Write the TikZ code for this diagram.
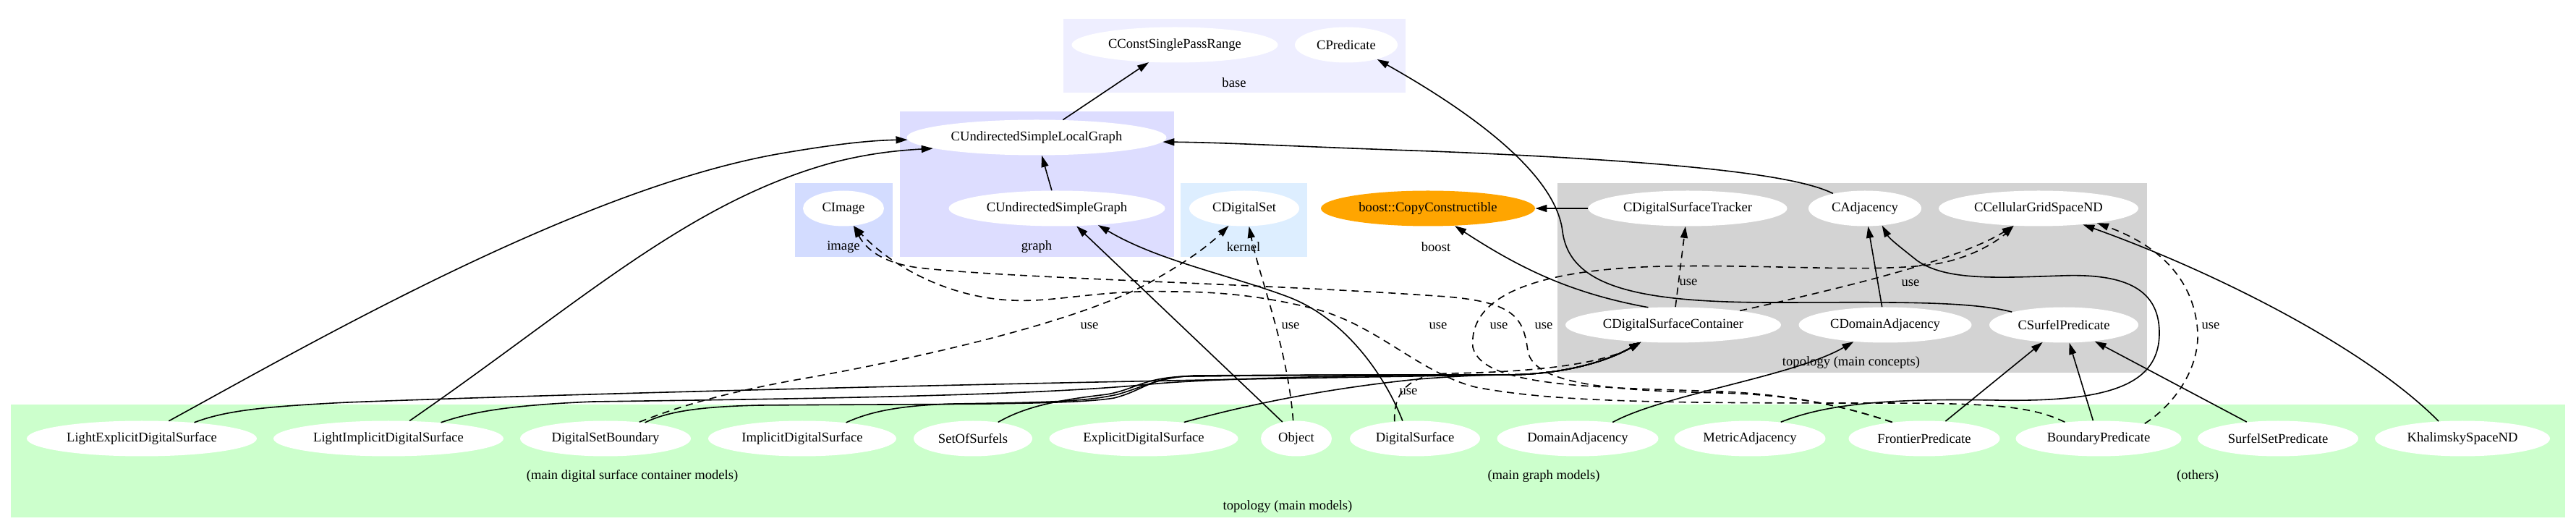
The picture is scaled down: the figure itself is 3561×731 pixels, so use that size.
\documentclass[tikz,border=0pt]{standalone}
\usepackage{fontspec}
\setmainfont{Liberation Serif}
\usetikzlibrary{shapes.geometric,arrows.meta}
\definecolor{cbase}{HTML}{EEEEFF}
\definecolor{cgraph}{HTML}{DDDDFF}
\definecolor{cimage}{HTML}{D3DCFF}
\definecolor{ckernel}{HTML}{DDEEFF}
\definecolor{cconc}{HTML}{D3D3D3}
\definecolor{cmodels}{HTML}{CCFFCC}
\definecolor{corange}{HTML}{FFA500}
\newcommand{\nodefont}{\fontsize{9.3pt}{11pt}\selectfont}
\begin{document}
\begin{tikzpicture}[x=0.5pt,y=-0.5pt,
  nd/.style={ellipse, fill=white, minimum height=24.5pt, inner sep=0pt, font=\nodefont},
  lbl/.style={inner sep=0pt, font=\nodefont},
  edge/.style={-{Triangle[length=8pt,width=5pt]}, line width=0.8pt},
  useedge/.style={edge, dash pattern=on 5pt off 3.5pt}]
\fill[white] (0,0) rectangle (3561,731);
\useasboundingbox (0,0) rectangle (3561,731);
% clusters
\fill[cbase] (1470,26) rectangle (1943,128);
\fill[cgraph] (1244,154) rectangle (1623,355);
\fill[cimage] (1099,253) rectangle (1234,355);
\fill[ckernel] (1632,253) rectangle (1807,355);
\fill[cconc] (2153,253) rectangle (2968,515);
\fill[cmodels] (15,559) rectangle (3546,715);
% cluster labels
\node[lbl] (lbase) at (1706,114) {base};
\node[lbl] (lgraph) at (1433,341) {graph};
\node[lbl] (limage) at (1166,341) {image};
\node[lbl] (lkernel) at (1719,341) {kernel};
\node[lbl] (lboost) at (1985,341) {boost};
\node[lbl] (lconc) at (2559,501) {topology (main concepts)};
\node[lbl] (lcont) at (874,658) {(main digital surface container models)};
\node[lbl] (lgm) at (2134,658) {(main graph models)};
\node[lbl] (loth) at (3038,658) {(others)};
\node[lbl] (lmod) at (1780,700) {topology (main models)};
% nodes
\node[nd, minimum width=142.5pt] (CCSPR) at (1624,62) {CConstSinglePassRange};
\node[nd, minimum width=71pt] (CPred) at (1861,62) {CPredicate};
\node[nd, minimum width=179.5pt] (CUSLG) at (1433,190) {CUndirectedSimpleLocalGraph};
\node[nd, minimum width=56pt] (CImage) at (1166,288) {CImage};
\node[nd, minimum width=149.5pt] (CUSG) at (1461,288) {CUndirectedSimpleGraph};
\node[nd, minimum width=76pt] (CDS) at (1720,288) {CDigitalSet};
\node[nd, fill=corange, minimum width=148pt] (boost) at (1974,288) {boost::CopyConstructible};
\node[nd, minimum width=137.5pt] (CDST) at (2333,288) {CDigitalSurfaceTracker};
\node[nd, minimum width=78pt] (CAdj) at (2578,288) {CAdjacency};
\node[nd, minimum width=138pt] (CCell) at (2818,288) {CCellularGridSpaceND};
\node[nd, minimum width=149pt] (CDSC) at (2313,449) {CDigitalSurfaceContainer};
\node[nd, minimum width=119.5pt] (CDomA) at (2606,449) {CDomainAdjacency};
\node[nd, minimum width=103pt] (CSP) at (2853,449) {CSurfelPredicate};
\node[nd, minimum width=159pt] (LE) at (196,606) {LightExplicitDigitalSurface};
\node[nd, minimum width=159pt] (LI) at (537,606) {LightImplicitDigitalSurface};
\node[nd, minimum width=118pt] (DSB) at (837,606) {DigitalSetBoundary};
\node[nd, minimum width=130pt] (IDS) at (1109,606) {ImplicitDigitalSurface};
\node[nd, minimum width=82pt] (SoS) at (1345,606) {SetOfSurfels};
\node[nd, minimum width=130.5pt] (EDS) at (1581,606) {ExplicitDigitalSurface};
\node[nd, minimum width=49pt] (Obj) at (1792,606) {Object};
\node[nd, minimum width=90pt] (DS) at (1956,606) {DigitalSurface};
\node[nd, minimum width=111.5pt] (DA) at (2181,606) {DomainAdjacency};
\node[nd, minimum width=104.5pt] (MA) at (2419,606) {MetricAdjacency};
\node[nd, minimum width=104.5pt] (FP) at (2660,606) {FrontierPredicate};
\node[nd, minimum width=114.5pt] (BP) at (2901,606) {BoundaryPredicate};
\node[nd, minimum width=111pt] (SSP) at (3149,606) {SurfelSetPredicate};
\node[nd, minimum width=121pt] (KS) at (3404,606) {KhalimskySpaceND};
% use labels
\node[lbl] (u1) at (1506,450) {use};
\node[lbl] (u2) at (1784,450) {use};
\node[lbl] (u3) at (1988,450) {use};
\node[lbl] (u4) at (2072,450) {use};
\node[lbl] (u5) at (2134,450) {use};
\node[lbl] (u6) at (1947,541) {use};
\node[lbl] (u7) at (2334,390) {use};
\node[lbl] (u8) at (2641,391) {use};
\node[lbl] (u9) at (3056,450) {use};
% edges
\draw[edge] (CUSLG) -- (CCSPR);
\draw[edge] (CUSG) -- (CUSLG);
\draw[edge] (CSP.166) .. controls (2720,415) and (2600,418) .. (2450,418)
  .. controls (2260,418) and (2170,395) .. (2160,320)
  .. controls (2152,250) and (2060,170) .. (CPred.-25);
\draw[edge] (CAdj.155) .. controls (2480,240) and (2300,222) .. (1980,209)
  .. controls (1800,203) and (1700,197) .. (CUSLG.-2);
\draw[edge] (CDST) -- (boost);
\draw[edge] (CDSC.145) .. controls (2170,405) and (2100,370) .. (boost);
\draw[useedge] (CDSC) -- (CDST);
\draw[useedge] (CDSC.12) .. controls (2560,395) and (2710,358) .. (CCell.215);
\draw[edge] (CDomA) -- (CAdj);
\draw[edge] (MA.28) .. controls (2520,560) and (2600,550) .. (2760,553)
  .. controls (2920,556) and (2985,530) .. (2985,460)
  .. controls (2985,395) and (2930,378) .. (2850,381)
  .. controls (2760,384) and (2690,388) .. (2650,360)
  .. controls (2625,340) and (2612,330) .. (CAdj.-45);
\draw[edge] (DA.25) .. controls (2300,545) and (2480,520) .. (CDomA.208);
\draw[edge] (FP) -- (CSP);
\draw[edge] (BP) -- (CSP);
\draw[edge] (SSP) -- (CSP);
\draw[edge] (KS.144) .. controls (3270,480) and (3060,375) .. (CCell.-20);
\draw[useedge] (BP.18) .. controls (3005,560) and (3040,510) .. (3038,460)
  .. controls (3035,400) and (3000,345) .. (CCell.-14);
\draw[edge] (LE.33) .. controls (420,480) and (800,260) .. (1080,212)
  .. controls (1150,200) and (1200,194) .. (CUSLG.181);
\draw[edge] (LI.40) .. controls (800,420) and (950,280) .. (1150,225)
  .. controls (1200,212) and (1240,208) .. (CUSLG.186);
% bundle to CDigitalSurfaceContainer
\draw[edge] (LE.17) .. controls (310,568) and (360,562) .. (480,556)
  .. controls (900,540) and (1600,525) .. (2080,518)
  .. controls (2160,518) and (2220,500) .. (CDSC.208);
\draw[edge] (LI.17) .. controls (650,570) and (700,560) .. (820,555)
  .. controls (1200,550) and (1450,545) .. (1600,530)
  .. controls (1700,522) and (1900,518) .. (2080,518)
  .. controls (2160,518) and (2220,500) .. (CDSC.208);
\draw[edge] (DSB.22) .. controls (920,570) and (960,562) .. (1050,560)
  .. controls (1300,558) and (1480,560) .. (1540,550)
  .. controls (1580,540) and (1590,522) .. (1640,520)
  .. controls (1800,518) and (1950,518) .. (2080,518)
  .. controls (2160,518) and (2220,500) .. (CDSC.208);
\draw[edge] (IDS.20) .. controls (1200,570) and (1240,560) .. (1320,558)
  .. controls (1450,556) and (1500,555) .. (1545,545)
  .. controls (1580,535) and (1600,522) .. (1650,519)
  .. controls (1800,518) and (1950,518) .. (2080,518)
  .. controls (2160,518) and (2220,500) .. (CDSC.208);
\draw[edge] (SoS.33) .. controls (1420,560) and (1470,552) .. (1530,545)
  .. controls (1570,538) and (1580,522) .. (1640,520)
  .. controls (1800,518) and (1950,518) .. (2080,518)
  .. controls (2160,518) and (2220,500) .. (CDSC.208);
\draw[edge] (EDS.22) .. controls (1740,555) and (1850,535) .. (1960,524)
  .. controls (2010,520) and (2050,518) .. (2080,518)
  .. controls (2160,518) and (2220,500) .. (CDSC.208);
\draw[useedge] (DS.140) .. controls (1926,545) and (1945,518) .. (2000,516)
  .. controls (2140,514) and (2220,500) .. (CDSC.208);
% graph models
\draw[edge] (Obj.130) -- (CUSG.-42);
\draw[edge] (DS.125) .. controls (1915,520) and (1860,440) .. (1780,410)
  .. controls (1700,380) and (1600,360) .. (CUSG.-22);
\draw[useedge] (Obj.100) .. controls (1780,480) and (1740,380) .. (CDS.-75);
\draw[useedge] (DSB.26) .. controls (930,565) and (990,545) .. (1100,525)
  .. controls (1300,490) and (1500,440) .. (1590,390)
  .. controls (1640,362) and (1670,340) .. (CDS.228);
% predicates use image / space
\draw[useedge] (BP.154) .. controls (2810,562) and (2760,557) .. (2600,557)
  .. controls (2300,557) and (2150,556) .. (2040,535)
  .. controls (1960,515) and (1900,445) .. (1810,425)
  .. controls (1740,408) and (1680,403) .. (1620,403)
  .. controls (1520,400) and (1460,418) .. (1400,415)
  .. controls (1320,412) and (1240,375) .. (CImage.-60);
\draw[useedge] (FP.153) .. controls (2560,565) and (2490,546) .. (2380,543)
  .. controls (2220,540) and (2120,530) .. (2112,485)
  .. controls (2106,440) and (2095,418) .. (2000,410)
  .. controls (1750,392) and (1400,385) .. (1270,370)
  .. controls (1230,365) and (1200,350) .. (CImage.-60);
\draw[useedge] (FP.153) .. controls (2560,565) and (2490,546) .. (2380,541)
  .. controls (2200,535) and (2050,535) .. (2036,480)
  .. controls (2030,410) and (2120,372) .. (2300,368)
  .. controls (2450,365) and (2600,378) .. (2680,364)
  .. controls (2730,355) and (2765,330) .. (CCell.215);
\end{tikzpicture}
\end{document}
